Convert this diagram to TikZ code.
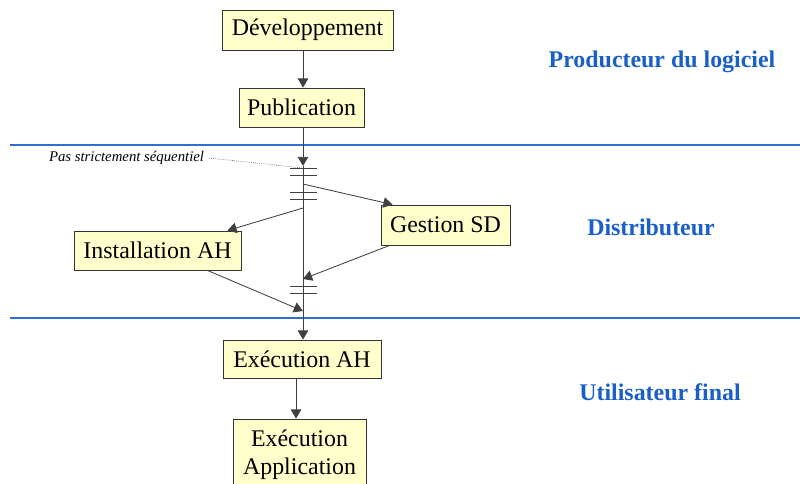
\documentclass[tikz,border=0pt]{standalone}
\usepackage{fontspec}
\setmainfont{Liberation Serif}
\usetikzlibrary{arrows.meta}
\definecolor{boxfill}{RGB}{255,255,204}
\definecolor{zoneblue}{RGB}{45,110,215}
\definecolor{labelblue}{RGB}{25,95,200}

\begin{document}
\begin{tikzpicture}[x=0.025cm, y=-0.025cm,
        etape/.style={draw=black!80, fill=boxfill, line width=0.6pt, inner sep=0pt,
            font=\fontsize{17}{20}\selectfont, minimum height=1cm, align=center},
        fleche/.style={draw=black!75, line width=0.6pt, -{Triangle[length=6.5pt,width=7.5pt]}},
        barre/.style={draw=black!75, line width=0.6pt},
        zone/.style={text=labelblue, font=\bfseries\fontsize{17}{20}\selectfont},
        limite/.style={draw=zoneblue, line width=0.8pt}]
        \useasboundingbox (0,0) rectangle (800,483);

        % zones
        \draw[limite] (10,145) -- (800,145);
        \draw[limite] (10,318) -- (800,318);
        \node[zone] (prod) at (662,62) {Producteur du logiciel};
        \node[zone] (dist) at (651,227) {Distributeur};
        \node[zone] (util) at (660,392) {Utilisateur final};

        % etapes
        \node[etape, minimum width=4.275cm] (dev) at (307.5,30) {Développement};
        \node[etape, minimum width=3.125cm, minimum height=0.975cm] (pub) at (301.5,107.5) {Publication};
        \node[etape, minimum width=3.225cm] (gsd) at (445.5,225) {Gestion SD};
        \node[etape, minimum width=4.175cm, minimum height=0.975cm] (inst) at (157.5,250.5) {Installation AH};
        \node[etape, minimum width=3.95cm, minimum height=0.95cm] (exah) at (302,359) {Exécution AH};
        \node[etape, minimum width=3.325cm, minimum height=1.8cm] (app) at (299.5,455)
            {Exécution\\Application};

        % fourche et jonction
        \coordinate (fork) at (303,166);
        \coordinate (b1) at (303,184);
        \coordinate (b2) at (303,208);
        \coordinate (j1) at (303,279);
        \coordinate (j2) at (303,311);
        \foreach \y in {168,175,192,199,286,293}
            \draw[barre] (290,\y) -- (317,\y);

        % connecteurs
        \draw[fleche] (dev.south -| fork) -- (pub.north -| fork);
        \draw[fleche] (pub.south -| fork) -- (fork);
        \draw[fleche] (fork) -- (fork |- exah.north);
        \draw[fleche] (b1) -- ([xshift=0.3cm]gsd.north west);
        \draw[fleche] (b2) -- ([xshift=-0.35cm]inst.north east);
        \draw[fleche] ([xshift=0.225cm]gsd.south west) -- (j1);
        \draw[fleche] ([xshift=-0.85cm]inst.south east) -- (j2);
        \draw[fleche] ([xshift=-0.15cm]exah.south) -- ([xshift=-0.15cm]exah.south |- app.north);

        % annotation
        \node[font=\itshape\fontsize{10.5}{12}\selectfont, anchor=east] (note) at (209,158) {Pas strictement séquentiel};
        \draw[black!60, densely dotted, line width=0.5pt] (note.east) -- ([yshift=-0.05cm]fork);
\end{tikzpicture}
\end{document}
